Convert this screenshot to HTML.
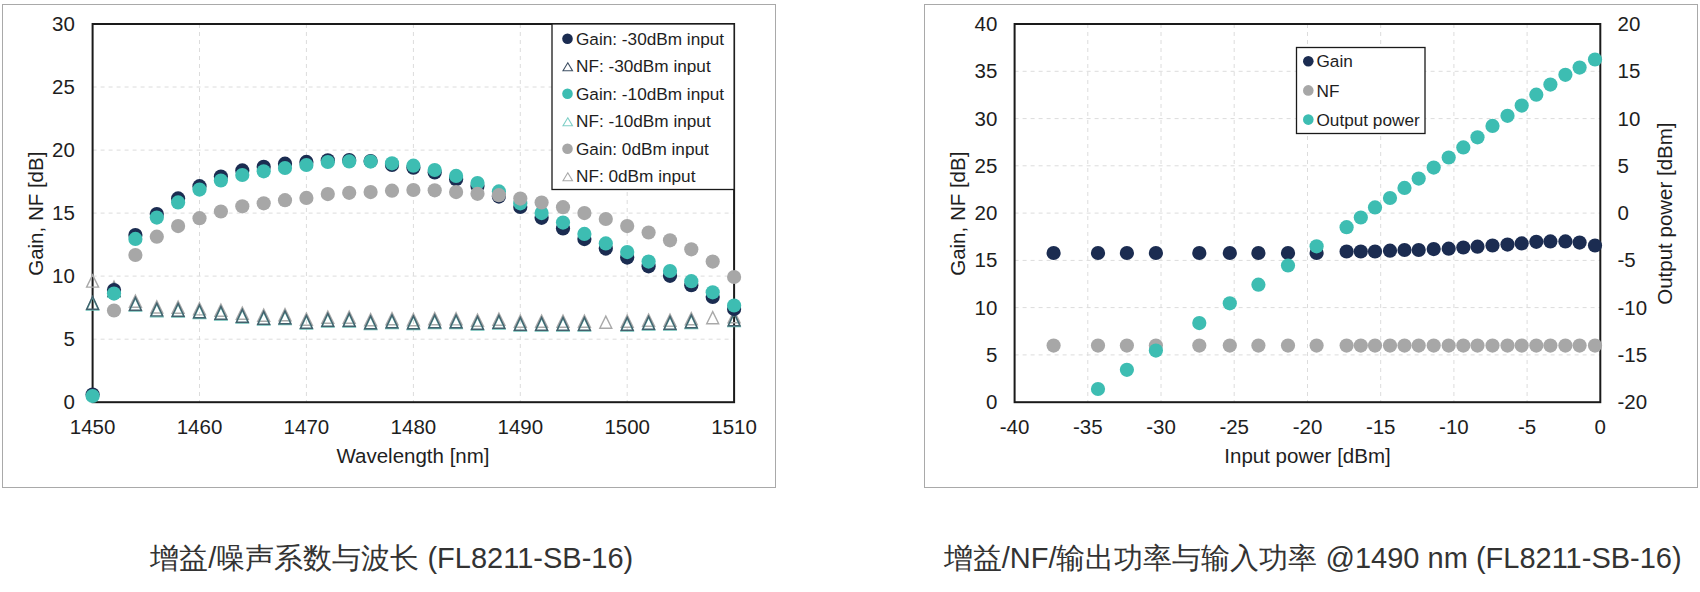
<!DOCTYPE html><html><head><meta charset="utf-8"><style>html,body{margin:0;padding:0;background:#fff;width:1700px;height:592px;overflow:hidden}svg{position:absolute;left:0;top:0}text{font-family:"Liberation Sans",sans-serif}.cap{position:absolute;top:0;font-family:"Liberation Sans",sans-serif;font-size:29px;color:#333;white-space:nowrap;line-height:1}</style></head><body>
<svg width="1700" height="592" viewBox="0 0 1700 592">
<rect x="2.5" y="4.5" width="773" height="483" fill="none" stroke="#a9a9a9" stroke-width="1"/>
<rect x="924.5" y="4.5" width="773" height="483" fill="none" stroke="#a9a9a9" stroke-width="1"/>
<path d="M92.6 339.2H734.1M92.6 276.1H734.1M92.6 213.1H734.1M92.6 150.1H734.1M92.6 87.0H734.1M199.5 24.0V402.2M306.4 24.0V402.2M413.4 24.0V402.2M520.3 24.0V402.2M627.2 24.0V402.2M1014.6 354.9H1600.3M1014.6 307.6H1600.3M1014.6 260.4H1600.3M1014.6 213.1H1600.3M1014.6 165.8H1600.3M1014.6 118.6H1600.3M1014.6 71.3H1600.3M1087.8 24.0V402.2M1161.0 24.0V402.2M1234.2 24.0V402.2M1307.5 24.0V402.2M1380.7 24.0V402.2M1453.9 24.0V402.2M1527.1 24.0V402.2" stroke="#dcdcdc" stroke-width="1" stroke-dasharray="4 4" fill="none"/>
<rect x="92.6" y="24.0" width="641.5" height="378.2" fill="none" stroke="#1a1a1a" stroke-width="2"/>
<rect x="1014.6" y="24.0" width="585.7" height="378.2" fill="none" stroke="#1a1a1a" stroke-width="2"/>
<g><path d="M92.6 274.9L98.6 287.1L86.6 287.1Z" fill="none" stroke="#a9a9a9" stroke-width="1.4" stroke-linejoin="miter"/><path d="M114.0 281.1L120.0 293.3L108.0 293.3Z" fill="none" stroke="#a9a9a9" stroke-width="1.4" stroke-linejoin="miter"/><path d="M135.4 295.1L141.4 307.3L129.4 307.3Z" fill="none" stroke="#a9a9a9" stroke-width="1.4" stroke-linejoin="miter"/><path d="M156.8 300.8L162.8 313.0L150.8 313.0Z" fill="none" stroke="#a9a9a9" stroke-width="1.4" stroke-linejoin="miter"/><path d="M178.1 301.1L184.1 313.3L172.1 313.3Z" fill="none" stroke="#a9a9a9" stroke-width="1.4" stroke-linejoin="miter"/><path d="M199.5 302.7L205.5 314.9L193.5 314.9Z" fill="none" stroke="#a9a9a9" stroke-width="1.4" stroke-linejoin="miter"/><path d="M220.9 304.1L226.9 316.3L214.9 316.3Z" fill="none" stroke="#a9a9a9" stroke-width="1.4" stroke-linejoin="miter"/><path d="M242.3 307.1L248.3 319.3L236.3 319.3Z" fill="none" stroke="#a9a9a9" stroke-width="1.4" stroke-linejoin="miter"/><path d="M263.7 309.1L269.7 321.3L257.7 321.3Z" fill="none" stroke="#a9a9a9" stroke-width="1.4" stroke-linejoin="miter"/><path d="M285.0 308.6L291.0 320.8L279.0 320.8Z" fill="none" stroke="#a9a9a9" stroke-width="1.4" stroke-linejoin="miter"/><path d="M306.4 313.1L312.4 325.3L300.4 325.3Z" fill="none" stroke="#a9a9a9" stroke-width="1.4" stroke-linejoin="miter"/><path d="M327.8 311.1L333.8 323.3L321.8 323.3Z" fill="none" stroke="#a9a9a9" stroke-width="1.4" stroke-linejoin="miter"/><path d="M349.2 311.1L355.2 323.3L343.2 323.3Z" fill="none" stroke="#a9a9a9" stroke-width="1.4" stroke-linejoin="miter"/><path d="M370.6 313.6L376.6 325.8L364.6 325.8Z" fill="none" stroke="#a9a9a9" stroke-width="1.4" stroke-linejoin="miter"/><path d="M392.0 312.6L398.0 324.8L386.0 324.8Z" fill="none" stroke="#a9a9a9" stroke-width="1.4" stroke-linejoin="miter"/><path d="M413.4 313.6L419.4 325.8L407.4 325.8Z" fill="none" stroke="#a9a9a9" stroke-width="1.4" stroke-linejoin="miter"/><path d="M434.7 312.6L440.7 324.8L428.7 324.8Z" fill="none" stroke="#a9a9a9" stroke-width="1.4" stroke-linejoin="miter"/><path d="M456.1 312.7L462.1 324.9L450.1 324.9Z" fill="none" stroke="#a9a9a9" stroke-width="1.4" stroke-linejoin="miter"/><path d="M477.5 314.1L483.5 326.3L471.5 326.3Z" fill="none" stroke="#a9a9a9" stroke-width="1.4" stroke-linejoin="miter"/><path d="M498.9 313.1L504.9 325.3L492.9 325.3Z" fill="none" stroke="#a9a9a9" stroke-width="1.4" stroke-linejoin="miter"/><path d="M520.3 315.1L526.3 327.3L514.3 327.3Z" fill="none" stroke="#a9a9a9" stroke-width="1.4" stroke-linejoin="miter"/><path d="M541.6 315.1L547.6 327.3L535.6 327.3Z" fill="none" stroke="#a9a9a9" stroke-width="1.4" stroke-linejoin="miter"/><path d="M563.0 315.1L569.0 327.3L557.0 327.3Z" fill="none" stroke="#a9a9a9" stroke-width="1.4" stroke-linejoin="miter"/><path d="M584.4 315.1L590.4 327.3L578.4 327.3Z" fill="none" stroke="#a9a9a9" stroke-width="1.4" stroke-linejoin="miter"/><path d="M605.8 316.1L611.8 328.3L599.8 328.3Z" fill="none" stroke="#a9a9a9" stroke-width="1.4" stroke-linejoin="miter"/><path d="M627.2 315.1L633.2 327.3L621.2 327.3Z" fill="none" stroke="#a9a9a9" stroke-width="1.4" stroke-linejoin="miter"/><path d="M648.6 314.1L654.6 326.3L642.6 326.3Z" fill="none" stroke="#a9a9a9" stroke-width="1.4" stroke-linejoin="miter"/><path d="M670.0 314.1L676.0 326.3L664.0 326.3Z" fill="none" stroke="#a9a9a9" stroke-width="1.4" stroke-linejoin="miter"/><path d="M691.3 312.6L697.3 324.8L685.3 324.8Z" fill="none" stroke="#a9a9a9" stroke-width="1.4" stroke-linejoin="miter"/><path d="M712.7 311.6L718.7 323.8L706.7 323.8Z" fill="none" stroke="#a9a9a9" stroke-width="1.4" stroke-linejoin="miter"/><path d="M734.1 310.6L740.1 322.8L728.1 322.8Z" fill="none" stroke="#a9a9a9" stroke-width="1.4" stroke-linejoin="miter"/></g>
<g><path d="M92.6 297.2L98.6 310.0L86.6 310.0Z" fill="none" stroke="#6cbdb5" stroke-width="1.5" stroke-linejoin="miter"/><path d="M114.0 284.2L120.0 297.0L108.0 297.0Z" fill="none" stroke="#6cbdb5" stroke-width="1.5" stroke-linejoin="miter"/><path d="M135.4 298.2L141.4 311.0L129.4 311.0Z" fill="none" stroke="#6cbdb5" stroke-width="1.5" stroke-linejoin="miter"/><path d="M156.8 303.9L162.8 316.7L150.8 316.7Z" fill="none" stroke="#6cbdb5" stroke-width="1.5" stroke-linejoin="miter"/><path d="M178.1 304.2L184.1 317.0L172.1 317.0Z" fill="none" stroke="#6cbdb5" stroke-width="1.5" stroke-linejoin="miter"/><path d="M199.5 305.8L205.5 318.6L193.5 318.6Z" fill="none" stroke="#6cbdb5" stroke-width="1.5" stroke-linejoin="miter"/><path d="M220.9 307.2L226.9 320.0L214.9 320.0Z" fill="none" stroke="#6cbdb5" stroke-width="1.5" stroke-linejoin="miter"/><path d="M242.3 310.2L248.3 323.0L236.3 323.0Z" fill="none" stroke="#6cbdb5" stroke-width="1.5" stroke-linejoin="miter"/><path d="M263.7 312.2L269.7 325.0L257.7 325.0Z" fill="none" stroke="#6cbdb5" stroke-width="1.5" stroke-linejoin="miter"/><path d="M285.0 311.7L291.0 324.5L279.0 324.5Z" fill="none" stroke="#6cbdb5" stroke-width="1.5" stroke-linejoin="miter"/><path d="M306.4 316.2L312.4 329.0L300.4 329.0Z" fill="none" stroke="#6cbdb5" stroke-width="1.5" stroke-linejoin="miter"/><path d="M327.8 314.2L333.8 327.0L321.8 327.0Z" fill="none" stroke="#6cbdb5" stroke-width="1.5" stroke-linejoin="miter"/><path d="M349.2 314.2L355.2 327.0L343.2 327.0Z" fill="none" stroke="#6cbdb5" stroke-width="1.5" stroke-linejoin="miter"/><path d="M370.6 316.7L376.6 329.5L364.6 329.5Z" fill="none" stroke="#6cbdb5" stroke-width="1.5" stroke-linejoin="miter"/><path d="M392.0 315.7L398.0 328.5L386.0 328.5Z" fill="none" stroke="#6cbdb5" stroke-width="1.5" stroke-linejoin="miter"/><path d="M413.4 316.7L419.4 329.5L407.4 329.5Z" fill="none" stroke="#6cbdb5" stroke-width="1.5" stroke-linejoin="miter"/><path d="M434.7 315.7L440.7 328.5L428.7 328.5Z" fill="none" stroke="#6cbdb5" stroke-width="1.5" stroke-linejoin="miter"/><path d="M456.1 315.8L462.1 328.6L450.1 328.6Z" fill="none" stroke="#6cbdb5" stroke-width="1.5" stroke-linejoin="miter"/><path d="M477.5 317.2L483.5 330.0L471.5 330.0Z" fill="none" stroke="#6cbdb5" stroke-width="1.5" stroke-linejoin="miter"/><path d="M498.9 316.2L504.9 329.0L492.9 329.0Z" fill="none" stroke="#6cbdb5" stroke-width="1.5" stroke-linejoin="miter"/><path d="M520.3 318.2L526.3 331.0L514.3 331.0Z" fill="none" stroke="#6cbdb5" stroke-width="1.5" stroke-linejoin="miter"/><path d="M541.6 318.2L547.6 331.0L535.6 331.0Z" fill="none" stroke="#6cbdb5" stroke-width="1.5" stroke-linejoin="miter"/><path d="M563.0 318.2L569.0 331.0L557.0 331.0Z" fill="none" stroke="#6cbdb5" stroke-width="1.5" stroke-linejoin="miter"/><path d="M584.4 318.2L590.4 331.0L578.4 331.0Z" fill="none" stroke="#6cbdb5" stroke-width="1.5" stroke-linejoin="miter"/><path d="M627.2 318.2L633.2 331.0L621.2 331.0Z" fill="none" stroke="#6cbdb5" stroke-width="1.5" stroke-linejoin="miter"/><path d="M648.6 317.2L654.6 330.0L642.6 330.0Z" fill="none" stroke="#6cbdb5" stroke-width="1.5" stroke-linejoin="miter"/><path d="M670.0 317.2L676.0 330.0L664.0 330.0Z" fill="none" stroke="#6cbdb5" stroke-width="1.5" stroke-linejoin="miter"/><path d="M691.3 315.7L697.3 328.5L685.3 328.5Z" fill="none" stroke="#6cbdb5" stroke-width="1.5" stroke-linejoin="miter"/><path d="M734.1 313.7L740.1 326.5L728.1 326.5Z" fill="none" stroke="#6cbdb5" stroke-width="1.5" stroke-linejoin="miter"/></g>
<g><path d="M92.6 296.4L98.6 309.2L86.6 309.2Z" fill="none" stroke="#43606c" stroke-width="1.4" stroke-linejoin="miter"/><path d="M114.0 283.4L120.0 296.2L108.0 296.2Z" fill="none" stroke="#43606c" stroke-width="1.4" stroke-linejoin="miter"/><path d="M135.4 297.4L141.4 310.2L129.4 310.2Z" fill="none" stroke="#43606c" stroke-width="1.4" stroke-linejoin="miter"/><path d="M156.8 303.1L162.8 315.9L150.8 315.9Z" fill="none" stroke="#43606c" stroke-width="1.4" stroke-linejoin="miter"/><path d="M178.1 303.4L184.1 316.2L172.1 316.2Z" fill="none" stroke="#43606c" stroke-width="1.4" stroke-linejoin="miter"/><path d="M199.5 305.0L205.5 317.8L193.5 317.8Z" fill="none" stroke="#43606c" stroke-width="1.4" stroke-linejoin="miter"/><path d="M220.9 306.4L226.9 319.2L214.9 319.2Z" fill="none" stroke="#43606c" stroke-width="1.4" stroke-linejoin="miter"/><path d="M242.3 309.4L248.3 322.2L236.3 322.2Z" fill="none" stroke="#43606c" stroke-width="1.4" stroke-linejoin="miter"/><path d="M263.7 311.4L269.7 324.2L257.7 324.2Z" fill="none" stroke="#43606c" stroke-width="1.4" stroke-linejoin="miter"/><path d="M285.0 310.9L291.0 323.7L279.0 323.7Z" fill="none" stroke="#43606c" stroke-width="1.4" stroke-linejoin="miter"/><path d="M306.4 315.4L312.4 328.2L300.4 328.2Z" fill="none" stroke="#43606c" stroke-width="1.4" stroke-linejoin="miter"/><path d="M327.8 313.4L333.8 326.2L321.8 326.2Z" fill="none" stroke="#43606c" stroke-width="1.4" stroke-linejoin="miter"/><path d="M349.2 313.4L355.2 326.2L343.2 326.2Z" fill="none" stroke="#43606c" stroke-width="1.4" stroke-linejoin="miter"/><path d="M370.6 315.9L376.6 328.7L364.6 328.7Z" fill="none" stroke="#43606c" stroke-width="1.4" stroke-linejoin="miter"/><path d="M392.0 314.9L398.0 327.7L386.0 327.7Z" fill="none" stroke="#43606c" stroke-width="1.4" stroke-linejoin="miter"/><path d="M413.4 315.9L419.4 328.7L407.4 328.7Z" fill="none" stroke="#43606c" stroke-width="1.4" stroke-linejoin="miter"/><path d="M434.7 314.9L440.7 327.7L428.7 327.7Z" fill="none" stroke="#43606c" stroke-width="1.4" stroke-linejoin="miter"/><path d="M456.1 315.0L462.1 327.8L450.1 327.8Z" fill="none" stroke="#43606c" stroke-width="1.4" stroke-linejoin="miter"/><path d="M477.5 316.4L483.5 329.2L471.5 329.2Z" fill="none" stroke="#43606c" stroke-width="1.4" stroke-linejoin="miter"/><path d="M498.9 315.4L504.9 328.2L492.9 328.2Z" fill="none" stroke="#43606c" stroke-width="1.4" stroke-linejoin="miter"/><path d="M520.3 317.4L526.3 330.2L514.3 330.2Z" fill="none" stroke="#43606c" stroke-width="1.4" stroke-linejoin="miter"/><path d="M541.6 317.4L547.6 330.2L535.6 330.2Z" fill="none" stroke="#43606c" stroke-width="1.4" stroke-linejoin="miter"/><path d="M563.0 317.4L569.0 330.2L557.0 330.2Z" fill="none" stroke="#43606c" stroke-width="1.4" stroke-linejoin="miter"/><path d="M584.4 317.4L590.4 330.2L578.4 330.2Z" fill="none" stroke="#43606c" stroke-width="1.4" stroke-linejoin="miter"/><path d="M627.2 317.4L633.2 330.2L621.2 330.2Z" fill="none" stroke="#43606c" stroke-width="1.4" stroke-linejoin="miter"/><path d="M648.6 316.4L654.6 329.2L642.6 329.2Z" fill="none" stroke="#43606c" stroke-width="1.4" stroke-linejoin="miter"/><path d="M670.0 316.4L676.0 329.2L664.0 329.2Z" fill="none" stroke="#43606c" stroke-width="1.4" stroke-linejoin="miter"/><path d="M691.3 314.9L697.3 327.7L685.3 327.7Z" fill="none" stroke="#43606c" stroke-width="1.4" stroke-linejoin="miter"/><path d="M734.1 312.9L740.1 325.7L728.1 325.7Z" fill="none" stroke="#43606c" stroke-width="1.4" stroke-linejoin="miter"/></g>
<g fill="#1b2c51"><circle cx="92.6" cy="394.5" r="7.1"/><circle cx="114.0" cy="290.0" r="7.1"/><circle cx="135.4" cy="235.0" r="7.1"/><circle cx="156.8" cy="214.0" r="7.1"/><circle cx="178.1" cy="198.4" r="7.1"/><circle cx="199.5" cy="186.2" r="7.1"/><circle cx="220.9" cy="176.5" r="7.1"/><circle cx="242.3" cy="170.4" r="7.1"/><circle cx="263.7" cy="166.8" r="7.1"/><circle cx="285.0" cy="163.7" r="7.1"/><circle cx="306.4" cy="161.9" r="7.1"/><circle cx="327.8" cy="160.3" r="7.1"/><circle cx="349.2" cy="160.0" r="7.1"/><circle cx="370.6" cy="161.0" r="7.1"/><circle cx="392.0" cy="165.0" r="7.1"/><circle cx="413.4" cy="167.7" r="7.1"/><circle cx="434.7" cy="172.5" r="7.1"/><circle cx="456.1" cy="179.2" r="7.1"/><circle cx="477.5" cy="186.0" r="7.1"/><circle cx="498.9" cy="196.6" r="7.1"/><circle cx="520.3" cy="207.0" r="7.1"/><circle cx="541.6" cy="217.8" r="7.1"/><circle cx="563.0" cy="228.5" r="7.1"/><circle cx="584.4" cy="239.1" r="7.1"/><circle cx="605.8" cy="248.6" r="7.1"/><circle cx="627.2" cy="257.6" r="7.1"/><circle cx="648.6" cy="266.3" r="7.1"/><circle cx="670.0" cy="275.8" r="7.1"/><circle cx="691.3" cy="285.2" r="7.1"/><circle cx="712.7" cy="297.0" r="7.1"/><circle cx="734.1" cy="308.9" r="7.1"/></g>
<g fill="#3dbdb2"><circle cx="92.6" cy="396.0" r="7.1"/><circle cx="114.0" cy="293.6" r="7.1"/><circle cx="135.4" cy="238.9" r="7.1"/><circle cx="156.8" cy="217.6" r="7.1"/><circle cx="178.1" cy="202.4" r="7.1"/><circle cx="199.5" cy="189.6" r="7.1"/><circle cx="220.9" cy="180.5" r="7.1"/><circle cx="242.3" cy="175.0" r="7.1"/><circle cx="263.7" cy="171.3" r="7.1"/><circle cx="285.0" cy="168.0" r="7.1"/><circle cx="306.4" cy="165.0" r="7.1"/><circle cx="327.8" cy="162.0" r="7.1"/><circle cx="349.2" cy="161.4" r="7.1"/><circle cx="370.6" cy="161.6" r="7.1"/><circle cx="392.0" cy="163.3" r="7.1"/><circle cx="413.4" cy="165.7" r="7.1"/><circle cx="434.7" cy="170.0" r="7.1"/><circle cx="456.1" cy="175.9" r="7.1"/><circle cx="477.5" cy="183.0" r="7.1"/><circle cx="498.9" cy="191.4" r="7.1"/><circle cx="520.3" cy="203.3" r="7.1"/><circle cx="541.6" cy="213.1" r="7.1"/><circle cx="563.0" cy="222.6" r="7.1"/><circle cx="584.4" cy="233.9" r="7.1"/><circle cx="605.8" cy="243.4" r="7.1"/><circle cx="627.2" cy="252.1" r="7.1"/><circle cx="648.6" cy="261.6" r="7.1"/><circle cx="670.0" cy="271.0" r="7.1"/><circle cx="691.3" cy="281.2" r="7.1"/><circle cx="712.7" cy="292.3" r="7.1"/><circle cx="734.1" cy="305.5" r="7.1"/></g>
<g fill="#a7a7a7"><circle cx="114.0" cy="310.5" r="7.1"/><circle cx="135.4" cy="255.0" r="7.1"/><circle cx="156.8" cy="236.7" r="7.1"/><circle cx="178.1" cy="226.1" r="7.1"/><circle cx="199.5" cy="218.2" r="7.1"/><circle cx="220.9" cy="211.5" r="7.1"/><circle cx="242.3" cy="206.3" r="7.1"/><circle cx="263.7" cy="203.3" r="7.1"/><circle cx="285.0" cy="200.2" r="7.1"/><circle cx="306.4" cy="197.9" r="7.1"/><circle cx="327.8" cy="194.1" r="7.1"/><circle cx="349.2" cy="192.8" r="7.1"/><circle cx="370.6" cy="192.1" r="7.1"/><circle cx="392.0" cy="190.7" r="7.1"/><circle cx="413.4" cy="190.0" r="7.1"/><circle cx="434.7" cy="190.3" r="7.1"/><circle cx="456.1" cy="192.1" r="7.1"/><circle cx="477.5" cy="193.8" r="7.1"/><circle cx="498.9" cy="195.2" r="7.1"/><circle cx="520.3" cy="198.6" r="7.1"/><circle cx="541.6" cy="202.5" r="7.1"/><circle cx="563.0" cy="207.2" r="7.1"/><circle cx="584.4" cy="213.1" r="7.1"/><circle cx="605.8" cy="219.0" r="7.1"/><circle cx="627.2" cy="226.1" r="7.1"/><circle cx="648.6" cy="232.5" r="7.1"/><circle cx="670.0" cy="240.3" r="7.1"/><circle cx="691.3" cy="249.3" r="7.1"/><circle cx="712.7" cy="261.6" r="7.1"/><circle cx="734.1" cy="277.0" r="7.1"/></g>
<rect x="552" y="24.0" width="182.1" height="165.5" fill="#fff" stroke="#1a1a1a" stroke-width="1.3"/>
<circle cx="567.5" cy="38.8" r="5.3" fill="#1b2c51"/>
<text x="576" y="44.9" font-size="17.2" fill="#1e1e1e">Gain: -30dBm input</text>
<path d="M567.8 62.8L572.5 70.8L563.0 70.8Z" fill="none" stroke="#3f5064" stroke-width="1.1" stroke-linejoin="miter"/>
<text x="576" y="72.4" font-size="17.2" fill="#1e1e1e">NF: -30dBm input</text>
<circle cx="567.5" cy="93.8" r="5.3" fill="#3dbdb2"/>
<text x="576" y="99.9" font-size="17.2" fill="#1e1e1e">Gain: -10dBm input</text>
<path d="M567.8 117.8L572.5 125.8L563.0 125.8Z" fill="none" stroke="#7fcfc7" stroke-width="1.1" stroke-linejoin="miter"/>
<text x="576" y="127.4" font-size="17.2" fill="#1e1e1e">NF: -10dBm input</text>
<circle cx="567.5" cy="148.8" r="5.3" fill="#a7a7a7"/>
<text x="576" y="154.9" font-size="17.2" fill="#1e1e1e">Gain: 0dBm input</text>
<path d="M567.8 172.8L572.5 180.8L563.0 180.8Z" fill="none" stroke="#a9a9a9" stroke-width="1.1" stroke-linejoin="miter"/>
<text x="576" y="182.4" font-size="17.2" fill="#1e1e1e">NF: 0dBm input</text>
<text x="74.8" y="409.2" font-size="20.5" fill="#1e1e1e" text-anchor="end">0</text>
<text x="74.8" y="346.2" font-size="20.5" fill="#1e1e1e" text-anchor="end">5</text>
<text x="74.8" y="283.1" font-size="20.5" fill="#1e1e1e" text-anchor="end">10</text>
<text x="74.8" y="220.1" font-size="20.5" fill="#1e1e1e" text-anchor="end">15</text>
<text x="74.8" y="157.1" font-size="20.5" fill="#1e1e1e" text-anchor="end">20</text>
<text x="74.8" y="94.0" font-size="20.5" fill="#1e1e1e" text-anchor="end">25</text>
<text x="74.8" y="31.0" font-size="20.5" fill="#1e1e1e" text-anchor="end">30</text>
<text x="92.6" y="433.5" font-size="20.5" fill="#1e1e1e" text-anchor="middle">1450</text>
<text x="199.5" y="433.5" font-size="20.5" fill="#1e1e1e" text-anchor="middle">1460</text>
<text x="306.4" y="433.5" font-size="20.5" fill="#1e1e1e" text-anchor="middle">1470</text>
<text x="413.4" y="433.5" font-size="20.5" fill="#1e1e1e" text-anchor="middle">1480</text>
<text x="520.3" y="433.5" font-size="20.5" fill="#1e1e1e" text-anchor="middle">1490</text>
<text x="627.2" y="433.5" font-size="20.5" fill="#1e1e1e" text-anchor="middle">1500</text>
<text x="734.1" y="433.5" font-size="20.5" fill="#1e1e1e" text-anchor="middle">1510</text>
<text x="413" y="462.5" font-size="20.5" fill="#1e1e1e" text-anchor="middle">Wavelength [nm]</text>
<text transform="translate(42.8 213.7) rotate(-90)" font-size="20.5" fill="#1e1e1e" text-anchor="middle">Gain, NF [dB]</text>
<g fill="#1b2c51"><circle cx="1053.6" cy="253.0" r="7.1"/><circle cx="1098.0" cy="253.0" r="7.1"/><circle cx="1126.9" cy="253.0" r="7.1"/><circle cx="1155.9" cy="253.0" r="7.1"/><circle cx="1199.3" cy="253.0" r="7.1"/><circle cx="1229.8" cy="253.0" r="7.1"/><circle cx="1258.4" cy="253.0" r="7.1"/><circle cx="1288.0" cy="253.0" r="7.1"/><circle cx="1316.6" cy="253.0" r="7.1"/><circle cx="1346.6" cy="251.5" r="7.1"/><circle cx="1360.8" cy="251.5" r="7.1"/><circle cx="1375.0" cy="251.5" r="7.1"/><circle cx="1390.0" cy="250.7" r="7.1"/><circle cx="1404.5" cy="250.0" r="7.1"/><circle cx="1418.7" cy="250.0" r="7.1"/><circle cx="1433.7" cy="249.1" r="7.1"/><circle cx="1448.7" cy="248.7" r="7.1"/><circle cx="1463.3" cy="247.5" r="7.1"/><circle cx="1477.5" cy="246.7" r="7.1"/><circle cx="1492.5" cy="245.5" r="7.1"/><circle cx="1507.5" cy="244.6" r="7.1"/><circle cx="1521.7" cy="243.4" r="7.1"/><circle cx="1536.3" cy="241.8" r="7.1"/><circle cx="1550.4" cy="241.4" r="7.1"/><circle cx="1565.4" cy="241.4" r="7.1"/><circle cx="1579.6" cy="242.6" r="7.1"/><circle cx="1595.0" cy="245.5" r="7.1"/></g>
<g fill="#a7a7a7"><circle cx="1053.6" cy="345.6" r="7.1"/><circle cx="1098.0" cy="345.6" r="7.1"/><circle cx="1126.9" cy="345.6" r="7.1"/><circle cx="1155.9" cy="345.6" r="7.1"/><circle cx="1199.3" cy="345.6" r="7.1"/><circle cx="1229.8" cy="345.6" r="7.1"/><circle cx="1258.4" cy="345.6" r="7.1"/><circle cx="1288.0" cy="345.6" r="7.1"/><circle cx="1316.6" cy="345.6" r="7.1"/><circle cx="1346.6" cy="345.6" r="7.1"/><circle cx="1360.8" cy="345.6" r="7.1"/><circle cx="1375.0" cy="345.6" r="7.1"/><circle cx="1390.0" cy="345.6" r="7.1"/><circle cx="1404.5" cy="345.6" r="7.1"/><circle cx="1418.7" cy="345.6" r="7.1"/><circle cx="1433.7" cy="345.6" r="7.1"/><circle cx="1448.7" cy="345.6" r="7.1"/><circle cx="1463.3" cy="345.6" r="7.1"/><circle cx="1477.5" cy="345.6" r="7.1"/><circle cx="1492.5" cy="345.6" r="7.1"/><circle cx="1507.5" cy="345.6" r="7.1"/><circle cx="1521.7" cy="345.6" r="7.1"/><circle cx="1536.3" cy="345.6" r="7.1"/><circle cx="1550.4" cy="345.6" r="7.1"/><circle cx="1565.4" cy="345.6" r="7.1"/><circle cx="1579.6" cy="345.6" r="7.1"/><circle cx="1595.0" cy="345.6" r="7.1"/></g>
<g fill="#3dbdb2"><circle cx="1098.0" cy="389.0" r="7.1"/><circle cx="1126.9" cy="369.8" r="7.1"/><circle cx="1155.9" cy="350.6" r="7.1"/><circle cx="1199.3" cy="323.1" r="7.1"/><circle cx="1229.8" cy="303.3" r="7.1"/><circle cx="1258.4" cy="284.7" r="7.1"/><circle cx="1288.0" cy="265.5" r="7.1"/><circle cx="1316.6" cy="246.3" r="7.1"/><circle cx="1346.6" cy="227.2" r="7.1"/><circle cx="1360.8" cy="217.5" r="7.1"/><circle cx="1375.0" cy="207.4" r="7.1"/><circle cx="1390.0" cy="198.0" r="7.1"/><circle cx="1404.5" cy="187.9" r="7.1"/><circle cx="1418.7" cy="178.6" r="7.1"/><circle cx="1433.7" cy="167.6" r="7.1"/><circle cx="1448.7" cy="157.5" r="7.1"/><circle cx="1463.3" cy="147.4" r="7.1"/><circle cx="1477.5" cy="137.3" r="7.1"/><circle cx="1492.5" cy="125.9" r="7.1"/><circle cx="1507.5" cy="115.8" r="7.1"/><circle cx="1521.7" cy="105.6" r="7.1"/><circle cx="1536.3" cy="94.7" r="7.1"/><circle cx="1550.4" cy="84.6" r="7.1"/><circle cx="1565.4" cy="74.8" r="7.1"/><circle cx="1579.6" cy="67.6" r="7.1"/><circle cx="1595.0" cy="59.5" r="7.1"/></g>
<rect x="1296.5" y="47.5" width="128.5" height="86" fill="#fff" stroke="#1a1a1a" stroke-width="1.3"/>
<circle cx="1308.3" cy="61.2" r="5.3" fill="#1b2c51"/>
<text x="1316.5" y="67.4" font-size="17.2" fill="#1e1e1e">Gain</text>
<circle cx="1308.3" cy="90.4" r="5.3" fill="#a7a7a7"/>
<text x="1316.5" y="96.6" font-size="17.2" fill="#1e1e1e">NF</text>
<circle cx="1308.3" cy="119.6" r="5.3" fill="#3dbdb2"/>
<text x="1316.5" y="125.8" font-size="17.2" fill="#1e1e1e">Output power</text>
<text x="997.3" y="409.2" font-size="20.5" fill="#1e1e1e" text-anchor="end">0</text>
<text x="997.3" y="361.9" font-size="20.5" fill="#1e1e1e" text-anchor="end">5</text>
<text x="997.3" y="314.6" font-size="20.5" fill="#1e1e1e" text-anchor="end">10</text>
<text x="997.3" y="267.4" font-size="20.5" fill="#1e1e1e" text-anchor="end">15</text>
<text x="997.3" y="220.1" font-size="20.5" fill="#1e1e1e" text-anchor="end">20</text>
<text x="997.3" y="172.8" font-size="20.5" fill="#1e1e1e" text-anchor="end">25</text>
<text x="997.3" y="125.6" font-size="20.5" fill="#1e1e1e" text-anchor="end">30</text>
<text x="997.3" y="78.3" font-size="20.5" fill="#1e1e1e" text-anchor="end">35</text>
<text x="997.3" y="31.0" font-size="20.5" fill="#1e1e1e" text-anchor="end">40</text>
<text x="1617.5" y="409.2" font-size="20.5" fill="#1e1e1e">-20</text>
<text x="1617.5" y="361.9" font-size="20.5" fill="#1e1e1e">-15</text>
<text x="1617.5" y="314.6" font-size="20.5" fill="#1e1e1e">-10</text>
<text x="1617.5" y="267.4" font-size="20.5" fill="#1e1e1e">-5</text>
<text x="1617.5" y="220.1" font-size="20.5" fill="#1e1e1e">0</text>
<text x="1617.5" y="172.8" font-size="20.5" fill="#1e1e1e">5</text>
<text x="1617.5" y="125.6" font-size="20.5" fill="#1e1e1e">10</text>
<text x="1617.5" y="78.3" font-size="20.5" fill="#1e1e1e">15</text>
<text x="1617.5" y="31.0" font-size="20.5" fill="#1e1e1e">20</text>
<text x="1014.6" y="433.5" font-size="20.5" fill="#1e1e1e" text-anchor="middle">-40</text>
<text x="1087.8" y="433.5" font-size="20.5" fill="#1e1e1e" text-anchor="middle">-35</text>
<text x="1161.0" y="433.5" font-size="20.5" fill="#1e1e1e" text-anchor="middle">-30</text>
<text x="1234.2" y="433.5" font-size="20.5" fill="#1e1e1e" text-anchor="middle">-25</text>
<text x="1307.5" y="433.5" font-size="20.5" fill="#1e1e1e" text-anchor="middle">-20</text>
<text x="1380.7" y="433.5" font-size="20.5" fill="#1e1e1e" text-anchor="middle">-15</text>
<text x="1453.9" y="433.5" font-size="20.5" fill="#1e1e1e" text-anchor="middle">-10</text>
<text x="1527.1" y="433.5" font-size="20.5" fill="#1e1e1e" text-anchor="middle">-5</text>
<text x="1600.3" y="433.5" font-size="20.5" fill="#1e1e1e" text-anchor="middle">0</text>
<text x="1307.5" y="462.5" font-size="20.5" fill="#1e1e1e" text-anchor="middle">Input power [dBm]</text>
<text transform="translate(964.8 213.7) rotate(-90)" font-size="20.5" fill="#1e1e1e" text-anchor="middle">Gain, NF [dB]</text>
<text transform="translate(1671.5 213.6) rotate(-90)" font-size="20.5" fill="#1e1e1e" text-anchor="middle">Output power [dBm]</text>
</svg>
<div class="cap" style="left:391.8px;top:543.5px;transform:translateX(-50%)">增益/噪声系数与波长 (FL8211-SB-16)</div>
<div class="cap" style="left:1312.7px;top:543.5px;transform:translateX(-50%)">增益/NF/输出功率与输入功率 @1490 nm (FL8211-SB-16)</div>
</body></html>
